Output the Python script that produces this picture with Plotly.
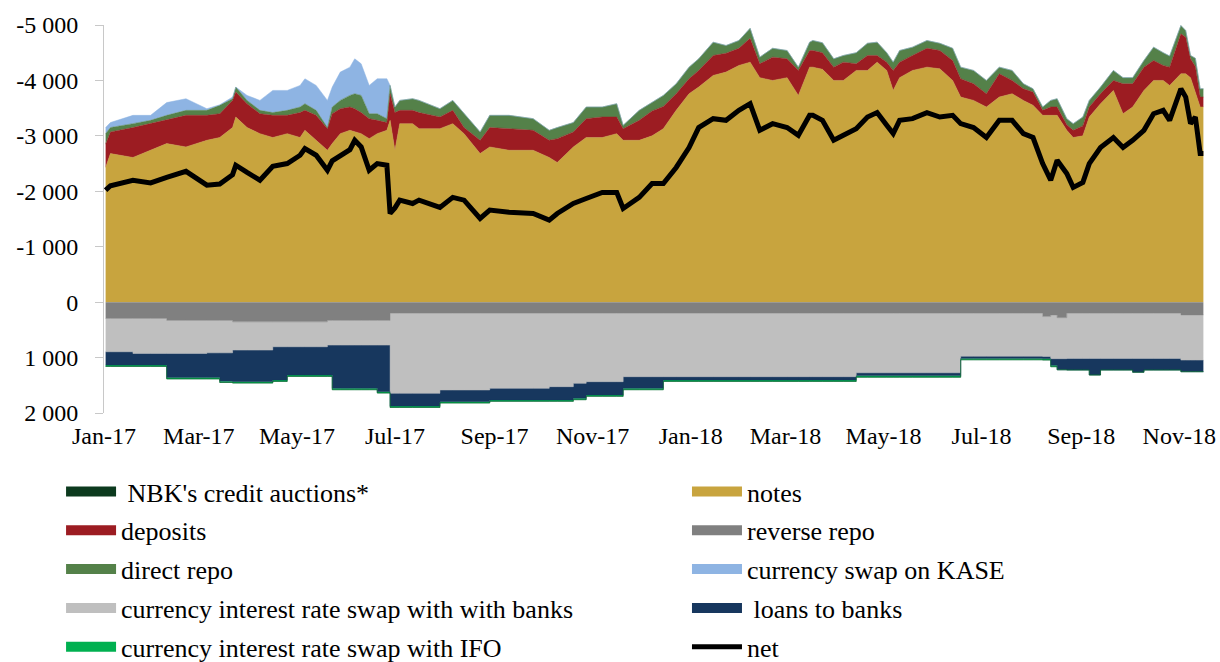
import plotly.graph_objects as go

# ---------------- data ----------------
dates = ["2017-01-02","2017-01-05","2017-01-19","2017-01-30","2017-02-09","2017-02-21","2017-03-06","2017-03-14","2017-03-22","2017-03-24",
         "2017-03-31","2017-04-08","2017-04-16","2017-04-25","2017-05-03","2017-05-06","2017-05-13","2017-05-20","2017-05-23","2017-05-28",
         "2017-06-03","2017-06-06","2017-06-10","2017-06-15","2017-06-20","2017-06-26","2017-06-28","2017-07-01","2017-07-04","2017-07-12",
         "2017-07-16","2017-07-29","2017-08-06","2017-08-13","2017-08-23","2017-08-29","2017-09-10","2017-09-25","2017-10-05","2017-10-10",
         "2017-10-20","2017-10-28","2017-11-07","2017-11-16","2017-11-20","2017-11-30","2017-12-08","2017-12-15","2017-12-23","2017-12-31",
         "2018-01-06","2018-01-15","2018-01-23","2018-01-31","2018-02-07","2018-02-13","2018-02-21","2018-03-02","2018-03-09","2018-03-16",
         "2018-03-18","2018-03-24","2018-03-31","2018-04-06","2018-04-14","2018-04-21","2018-04-27","2018-05-03","2018-05-07","2018-05-11",
         "2018-05-19","2018-05-28","2018-06-05","2018-06-13","2018-06-18","2018-06-26","2018-07-04","2018-07-12","2018-07-20","2018-07-27",
         "2018-08-02","2018-08-08","2018-08-13","2018-08-17","2018-08-23","2018-08-27","2018-09-02","2018-09-06","2018-09-13","2018-09-21",
         "2018-09-27","2018-10-03","2018-10-10","2018-10-16","2018-10-22","2018-10-26","2018-11-02","2018-11-05","2018-11-08","2018-11-11",
         "2018-11-14","2018-11-16"]

notes = [-2430,-2680,-2610,-2740,-2860,-2800,-2920,-2970,-3150,-3340,
         -3150,-3040,-2970,-3040,-2970,-3100,-2920,-2740,-2860,-3040,
         -3100,-3070,-3040,-2950,-3040,-3100,-3280,-2740,-3220,-3220,
         -3130,-3130,-3220,-3040,-2680,-2800,-2740,-2740,-2610,-2520,
         -2800,-2970,-2970,-3040,-2920,-2920,-3000,-3130,-3460,-3760,
         -3880,-4090,-4150,-4270,-4330,-4050,-4000,-4050,-3730,-4240,
         -4240,-4200,-4000,-4000,-4180,-4180,-4330,-4180,-3820,-4050,
         -4180,-4240,-4210,-4000,-3700,-3640,-3520,-3700,-3760,-3640,
         -3550,-3370,-3370,-3370,-3100,-2970,-3000,-3340,-3580,-3820,
         -3400,-3520,-3820,-4000,-4000,-3910,-4120,-4120,-4050,-3800,
         -3520,-3520]

deposits = [-420,-390,-540,-480,-420,-570,-450,-430,-490,-450,
            -430,-360,-400,-330,-450,-360,-450,-390,-540,-450,
            -420,-420,-380,-360,-240,-140,-480,-680,-240,-240,
            -290,-210,-240,-110,-240,-350,-390,-360,-310,-430,
            -270,-340,-370,-300,-210,-360,-450,-400,-300,-270,
            -300,-360,-340,-310,-430,-250,-420,-340,-450,-300,
            -300,-300,-240,-330,-120,-270,-120,-150,-360,-280,
            -270,-340,-330,-360,-330,-300,-240,-420,-240,-210,
            -240,-90,-150,-150,-100,-130,-180,-180,-180,-180,
            -540,-420,-420,-360,-270,-330,-720,-660,-340,-450,
            -180,-180]

direct_repo = [-190,-80,-70,-60,-90,-90,-90,-150,-30,-90,
               -60,-60,-50,-90,-100,-120,-90,-20,-120,-150,
               -210,-270,-310,-90,-120,-70,-150,-100,-180,-210,
               -220,-150,-180,-250,-150,-220,-240,-210,-180,-200,
               -170,-210,-180,-240,-60,-180,-150,-200,-180,-210,
               -210,-240,-140,-140,-180,-120,-160,-150,-60,-150,
               -180,-180,-150,-120,-200,-220,-240,-170,-150,-210,
               -150,-140,-130,-220,-210,-240,-240,-120,-180,-90,
               -60,-60,-120,-150,-110,-120,-160,-120,-120,-180,
               -110,-110,-120,-240,-230,-200,-150,-120,-60,-150,
               -150,-150]

kase_swap = [-110,-90,-150,-90,-230,-210,-30,-10,-30,0,
             -90,-180,-400,-360,-390,-450,-450,-490,-360,-510,
             -510,-630,-570,-510,-630,-720] + [0] * 76

reverse_repo = [295]*4 + [330]*4 + [355]*9 + [330]*9 + [200]*55 + [260, 230, 280] + [200]*12 + [230]*6

swap_banks = ([600]*2 + [630]*2 + [595]*2 + [585]*2 + [510]*4 + [450]*5 + [445]*9 +
              [1445]*5 + [1385]*4 + [1355]*3 + [1325]*2 + [1265] + [1235]*3 + [1145]*20 +
              [1075]*10 + [775]*7 + [720, 790, 740] + [815]*18)

loans = ([240]*2 + [210]*2 + [435]*2 + [445, 510] + [570]*4 + [600] + [510]*4 + [540] + [780]*6 + [840]*2 +
         [230]*5 + [210]*4 + [210]*3 + [240]*2 + [270] + [240]*3 + [210]*3 + [60]*17 +
         [55]*10 + [40]*8 + [120, 200] + [210]*3 + [300] + [210]*3 + [250] + [210]*10)

swap_ifo = [25]*83 + [0]*19

nbk_auctions = [0]*102

net = [-2020,-2100,-2200,-2150,-2250,-2360,-2110,-2130,-2300,-2470,
       -2340,-2200,-2450,-2500,-2650,-2770,-2650,-2380,-2550,-2650,
       -2750,-2920,-2800,-2380,-2500,-2470,-1600,-1700,-1840,-1780,
       -1840,-1710,-1890,-1840,-1510,-1660,-1620,-1600,-1480,-1600,
       -1780,-1870,-1980,-1980,-1690,-1890,-2140,-2140,-2430,-2790,
       -3150,-3310,-3280,-3460,-3580,-3100,-3220,-3150,-3010,-3370,
       -3370,-3280,-2920,-3010,-3130,-3340,-3420,-3190,-3040,-3280,
       -3310,-3420,-3340,-3370,-3220,-3150,-2970,-3280,-3280,-3040,
       -2970,-2500,-2200,-2560,-2320,-2070,-2160,-2500,-2790,-2970,
       -2790,-2920,-3100,-3400,-3460,-3280,-3850,-3700,-3220,-3340,
       -2680,-2680]

x_tick_vals = ["2017-01-01","2017-03-01","2017-05-01","2017-07-01","2017-09-01","2017-11-01",
               "2018-01-01","2018-03-01","2018-05-01","2018-07-01","2018-09-01","2018-11-01"]
x_tick_text = ["Jan-17","Mar-17","May-17","Jul-17","Sep-17","Nov-17",
               "Jan-18","Mar-18","May-18","Jul-18","Sep-18","Nov-18"]
y_tick_vals = [-5000,-4000,-3000,-2000,-1000,0,1000,2000]
y_tick_text = ["-5 000","-4 000","-3 000","-2 000","-1 000","0","1 000","2 000"]

# ---------------- styling ----------------
FONT = "Liberation Serif"
C = {
    "notes": "#C8A43E", "deposits": "#9C1C22", "repo": "#548149", "kase": "#8EB4E3",
    "rrepo": "#808080", "sbanks": "#BFBFBF", "loans": "#17375E", "ifo": "#00B050",
    "nbk": "#0C3A1E",
}

fig = go.Figure()

neg_stack = [(notes, C["notes"]), (deposits, C["deposits"]), (direct_repo, C["repo"]), (kase_swap, C["kase"])]
pos_stack = [(reverse_repo, C["rrepo"]), (swap_banks, C["sbanks"]), (loans, C["loans"]),
             (swap_ifo, C["ifo"]), (nbk_auctions, C["nbk"])]

for vals, col in neg_stack:
    fig.add_trace(go.Scatter(x=dates, y=vals, stackgroup="neg", mode="lines",
                             line=dict(width=0.5, color=col), fillcolor=col,
                             showlegend=False, hoverinfo="skip"))
for vals, col in pos_stack:
    fig.add_trace(go.Scatter(x=dates, y=vals, stackgroup="pos", mode="lines",
                             line=dict(width=0.5, color=col, shape="hv"), fillcolor=col,
                             showlegend=False, hoverinfo="skip"))

fig.add_trace(go.Scatter(x=dates, y=net, mode="lines", line=dict(color="black", width=5),
                         showlegend=False, hoverinfo="skip"))

# legend entries (two columns, as in the original)
left_items = [("\u00a0NBK's credit auctions*", C["nbk"]), ("deposits", C["deposits"]),
              ("direct repo", C["repo"]), ("currency interest rate swap with with banks", C["sbanks"]),
              ("currency interest rate swap with IFO", C["ifo"])]
right_items = [("notes", C["notes"], 10), ("reverse repo", C["rrepo"], 10), ("currency swap on KASE", C["kase"], 10),
               ("\u00a0loans to banks", C["loans"], 10), ("net", "black", 5)]

for i, (name, col) in enumerate(left_items):
    fig.add_trace(go.Scatter(x=[None], y=[None], mode="lines", name=name,
                             line=dict(color=col, width=10), legend="legend",
                             legendgroup="L%d" % i, hoverinfo="skip"))
for i, (name, col, w) in enumerate(right_items):
    fig.add_trace(go.Scatter(x=[None], y=[None], mode="lines", name=name,
                             line=dict(color=col, width=w), legend="legend2",
                             legendgroup="R%d" % i, hoverinfo="skip"))

legend_common = dict(orientation="v", xanchor="left", yanchor="top", traceorder="grouped",
                     tracegroupgap=2, bgcolor="rgba(0,0,0,0)", borderwidth=0, itemwidth=50,
                     font=dict(family=FONT, size=26, color="black"))

fig.update_layout(
    width=1220, height=662,
    margin=dict(l=104, r=15, t=25, b=249, autoexpand=False),
    paper_bgcolor="white", plot_bgcolor="white",
    font=dict(family=FONT, size=24, color="black"),
    legend=dict(x=-0.0390, y=-0.142, **legend_common),
    legend2=dict(x=0.5295, y=-0.142, **legend_common),
    xaxis=dict(type="date", range=["2017-01-01", "2018-11-17"],
               tickmode="array", tickvals=x_tick_vals, ticktext=x_tick_text,
               showgrid=False, zeroline=False, showline=False, ticks="",
               ticklabelstandoff=6, tickfont=dict(family=FONT, size=24, color="black")),
    yaxis=dict(range=[2000, -5000], tickmode="array", tickvals=y_tick_vals, ticktext=y_tick_text,
               showgrid=False, zeroline=False, showline=True, linecolor="#C8C8C8", linewidth=1,
               ticks="outside", ticklen=8, tickcolor="#C8C8C8", tickwidth=1,
               ticklabelstandoff=12, tickfont=dict(family=FONT, size=24, color="black")),
    showlegend=True,
)

fig.write_html("out.html", config={"displayModeBar": False},
               post_script="document.body.style.margin='0';document.body.style.overflow='hidden';")
